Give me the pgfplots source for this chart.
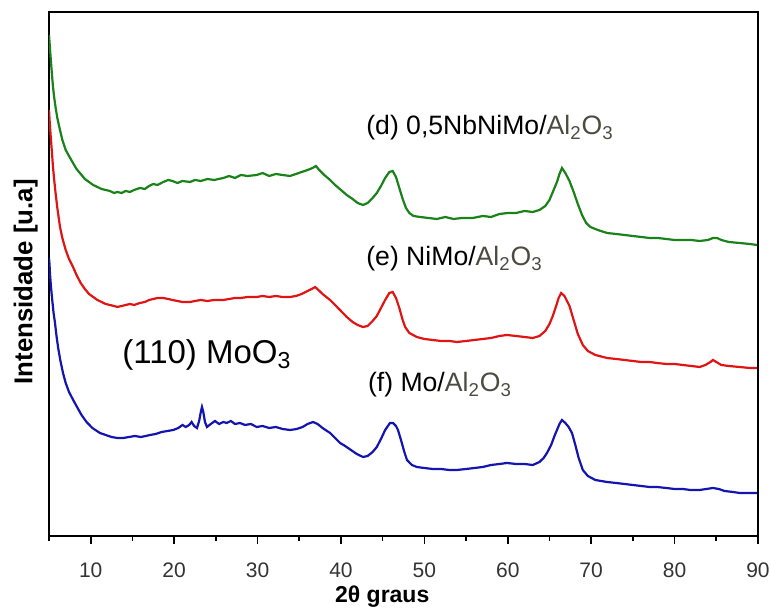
\documentclass[border=0pt]{standalone}
\usepackage{pgfplots}
\pgfplotsset{compat=1.18}
\usepackage{fontspec}
\setmainfont{Liberation Sans}
\definecolor{cgreen}{RGB}{25,130,25}
\definecolor{cred}{RGB}{225,20,20}
\definecolor{cblue}{RGB}{20,20,175}
\definecolor{alc}{RGB}{75,75,65}
\newcommand{\alo}{{\color{alc}Al\textsubscript{2}O\textsubscript{3}}}
\begin{document}
\begin{tikzpicture}
\useasboundingbox (-24.5pt,-36pt) rectangle (361pt,268pt);
\begin{axis}[
  at={(0,0)}, anchor=south west,
  scale only axis, width=354.5pt, height=262pt,
  xmin=5, xmax=90, ymin=0, ymax=524,
  xtick={10,20,...,90}, minor xtick={5,15,...,85},
  ytick=\empty,
  xtick pos=left, tick align=outside,
  major tick length=4pt, minor tick length=2.5pt,
  every tick/.style={black, line width=0.8pt},
  axis line style={line width=0.9pt},
  xticklabel={\raisebox{-6pt}[\height][\depth]{\fontsize{10.5}{12}\selectfont\color{black!80}\pgfmathprintnumber[assume math mode=true]{\tick}}},
  xlabel={\bfseries 2θ graus},
  xlabel style={font=\fontsize{11.5}{13}\selectfont, at={(axis description cs:0.47,0)}, anchor=center, yshift=-30.5pt},
  ylabel={\bfseries Intensidade [u.a]},
  ylabel style={font=\fontsize{12.9}{15}\selectfont, at={(axis description cs:-0.033,0.485)}, anchor=center},
  clip=true,
]
\addplot[cgreen, line width=1.1pt] coordinates {
(5.0,501) (5.1,490) (5.2,478) (5.35,462) (5.48,449) (5.6,440) (5.8,428) (6.0,418) (6.32,406) (6.6,396) (7.0,386) (7.4,380) (7.88,373) (8.3,367) (8.8,362) (9.3,357) (9.8,354) (10.3,351) (10.8,349) (11.3,347) (11.8,346) (12.3,345) (12.8,343) (13.2,344) (13.7,343) (14.2,345) (14.7,344) (15.2,346) (15.9,348) (16.5,347) (17.0,350) (17.5,352) (18.0,351) (18.7,354) (19.3,356) (19.8,355) (20.4,353) (21.0,355) (21.9,354) (22.5,356) (23.2,355) (24.0,357) (24.8,356) (25.9,358) (26.6,360) (27.3,358) (28.0,361) (28.8,360) (29.9,361) (30.6,363) (31.4,360) (32.2,362) (33.0,361) (33.9,360) (34.6,362) (35.3,364) (36.0,366) (36.6,368) (37.0,370) (37.4,366) (38.0,361) (38.7,356) (39.3,351) (40.0,346) (40.7,341) (41.4,337) (42.0,333) (42.65,331) (43.2,333) (43.8,338) (44.3,343) (44.8,350) (45.3,358) (45.8,364) (46.2,365) (46.6,359) (47.0,348) (47.4,337) (47.8,328) (48.2,323) (48.7,320) (49.5,319) (50.5,318) (51.5,317) (52.5,319) (53.5,317) (54.5,318) (55.8,318) (57.0,320) (58.0,319) (59.0,322) (60.0,323) (61.0,323) (62.0,325) (63.0,324) (63.8,326) (64.5,330) (65.0,336) (65.4,344) (65.9,354) (66.2,362) (66.5,368) (66.9,363) (67.4,355) (67.9,344) (68.4,332) (68.9,321) (69.4,313) (69.9,309) (70.8,306) (71.9,303) (73.0,302) (74.0,301) (75.0,300) (76.0,299) (77.0,298) (78.0,298) (79.0,297) (80.0,296) (81.0,296) (82.0,296) (83.0,295) (84.0,296) (84.6,298) (85.1,298) (85.6,296) (86.5,294) (87.8,293) (89.0,292) (89.9,291)
};
\addplot[cred, line width=1.1pt] coordinates {
(5.0,426) (5.1,412) (5.2,400) (5.35,384) (5.48,369) (5.6,358) (5.8,342) (6.0,328) (6.32,309) (6.6,298) (7.0,286) (7.4,277) (7.88,269) (8.3,261) (8.8,253) (9.3,247) (9.8,242) (10.3,239) (10.8,236) (11.3,234) (11.8,232) (12.3,231) (12.8,230) (13.2,229) (13.7,230) (14.2,231) (14.7,232) (15.2,231) (15.9,233) (16.5,234) (17.0,236) (17.5,237) (18.0,238) (18.7,238) (19.3,237) (19.8,236) (20.4,235) (21.0,234) (21.9,234) (22.5,235) (23.2,236) (24.0,235) (24.8,236) (25.9,236) (26.6,237) (27.3,238) (28.0,238) (28.8,239) (29.9,239) (30.6,240) (31.4,239) (32.2,240) (33.0,239) (33.9,239) (34.6,240) (35.3,242) (36.0,245) (36.5,247) (36.9,249) (37.3,246) (37.8,242) (38.7,236) (39.3,231) (40.0,225) (40.7,219) (41.4,214) (42.0,211) (42.65,209) (43.2,210) (43.8,215) (44.3,220) (44.8,228) (45.3,236) (45.8,243) (46.2,244) (46.6,238) (47.0,228) (47.4,216) (47.7,209) (48.2,203) (49.1,199) (50.0,197) (51.0,196) (52.0,195) (53.0,195) (53.9,194) (55.0,195) (56.0,196) (57.0,197) (58.0,198) (59.0,200) (59.9,201) (61.0,200) (62.0,199) (63.0,198) (63.8,200) (64.5,205) (65.0,212) (65.4,220) (65.8,230) (66.1,238) (66.4,243) (66.8,240) (67.4,230) (67.9,216) (68.4,202) (69.0,191) (69.6,185) (70.5,181) (71.9,178) (73.0,177) (74.0,176) (75.0,175) (76.0,174) (77.0,174) (77.9,173) (79.0,172) (80.0,172) (81.0,171) (82.0,170) (83.0,169) (83.7,171) (84.3,174) (84.6,176) (85.0,174) (85.6,171) (86.5,170) (87.8,169) (89.0,168) (89.9,168)
};
\addplot[cblue, line width=1.1pt] coordinates {
(5.0,278) (5.06,272) (5.12,262) (5.25,248) (5.4,235) (5.55,223) (5.72,213) (5.9,200) (6.1,188) (6.35,176) (6.68,163) (7.0,153) (7.4,144) (7.9,136) (8.36,129) (8.9,121) (9.5,114) (10.2,108) (11.1,103) (11.8,101) (12.5,99) (13.2,98) (13.9,98) (14.6,99) (15.3,100) (16.0,99) (16.6,100) (17.1,101) (17.8,102) (18.5,104) (19.2,105) (19.9,106) (20.5,108) (21.0,111) (21.4,109) (21.8,111) (22.1,114) (22.4,110) (22.74,108) (23.0,115) (23.2,124) (23.34,129) (23.5,124) (23.7,114) (23.94,109) (24.4,112) (24.9,115) (25.4,112) (25.9,114) (26.3,113) (26.8,115) (27.3,112) (27.9,113) (28.5,111) (29.2,112) (29.9,109) (30.6,110) (31.4,108) (32.2,109) (33.0,107) (33.9,106) (34.7,107) (35.4,109) (36.0,112) (36.65,114) (37.2,112) (37.8,108) (38.7,103) (39.3,98) (39.9,93) (40.5,90) (41.2,86) (41.9,82) (42.65,79) (43.2,80) (43.8,84) (44.3,89) (44.8,97) (45.3,106) (45.88,113) (46.24,113) (46.6,110) (46.84,106) (47.2,96) (47.6,84) (47.92,76) (48.5,71) (49.1,69) (50.0,68) (51.0,67) (52.0,67) (53.0,66) (53.9,66) (55.0,67) (56.0,68) (57.0,69) (58.0,71) (59.0,72) (59.9,73) (61.0,72) (62.0,72) (63.0,71) (63.8,74) (64.3,78) (64.7,83) (65.2,91) (65.6,100) (65.9,106) (66.2,112) (66.5,116) (66.9,113) (67.3,109) (67.7,103) (68.1,91) (68.5,78) (69.0,66) (69.6,60) (70.5,56) (71.9,54) (73.0,53) (74.0,52) (75.0,51) (76.0,50) (77.0,49) (77.9,49) (79.0,48) (80.0,47) (81.0,47) (81.9,46) (83.0,46) (83.8,47) (84.6,48) (85.3,47) (86.0,45) (87.0,44) (87.8,43) (89.0,43) (89.9,43)
};
\node[anchor=west, inner sep=0pt, font=\fontsize{13.3}{15}\selectfont] at (axis cs:43.0,408) {(d) 0,5NbNiMo/\alo};
\node[anchor=west, inner sep=0pt, font=\fontsize{13.3}{15}\selectfont] at (axis cs:43.0,277) {(e) NiMo/\alo};
\node[anchor=west, inner sep=0pt, font=\fontsize{13.3}{15}\selectfont] at (axis cs:43.2,151) {(f) Mo/\alo};
\node[anchor=west, inner sep=0pt, font=\fontsize{16.5}{19}\selectfont] at (axis cs:13.75,181) {(110) MoO\textsubscript{3}};
\end{axis}
\end{tikzpicture}
\end{document}
